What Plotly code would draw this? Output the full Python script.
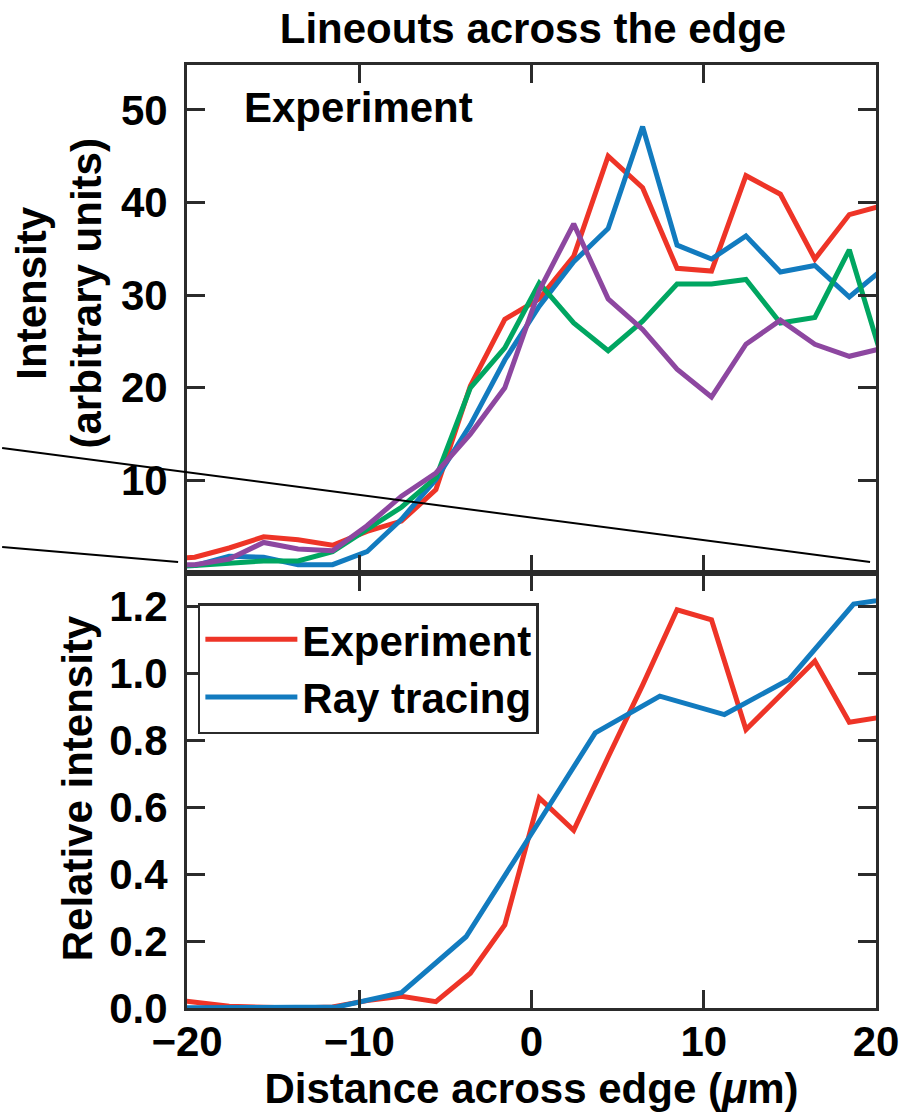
import plotly.graph_objects as go

# ---------------- data ----------------
x_top = [-21.55, -19.55, -17.55, -15.55, -13.55, -11.55, -9.55, -7.55, -5.55, -3.55, -1.55,
         0.45, 2.45, 4.45, 6.45, 8.45, 10.45, 12.45, 14.45, 16.45, 18.45, 20.45]
red_top = [1.5, 1.7, 2.7, 3.9, 3.6, 3.0, 4.5, 5.6, 9.0, 20.2, 27.4,
           29.6, 34.2, 45.0, 41.6, 32.9, 32.6, 42.9, 40.9, 33.9, 38.7, 39.7]
blue_top = [0.7, 0.8, 1.8, 1.7, 0.9, 0.9, 2.3, 5.8, 10.1, 16.0, 23.0,
            28.8, 33.6, 37.2, 48.2, 35.4, 33.9, 36.4, 32.5, 33.2, 29.8, 32.9]
green_top = [0.7, 0.8, 1.05, 1.3, 1.3, 2.3, 4.7, 7.1, 10.3, 20.0, 24.3,
             31.3, 27.0, 24.0, 27.2, 31.2, 31.2, 31.7, 27.0, 27.6, 34.9, 22.6]
purple_top = [0.8, 0.9, 1.5, 3.3, 2.6, 2.4, 5.1, 8.3, 10.8, 15.0, 20.0,
              30.5, 37.7, 29.6, 26.3, 22.0, 19.0, 24.7, 27.3, 24.7, 23.4, 24.3]

x_exp = x_top
rel_exp = [0.03, 0.018, 0.005, 0.002, 0.0, 0.003, 0.022, 0.035, 0.019, 0.104, 0.248,
           0.628, 0.531, 0.75, 0.965, 1.19, 1.16, 0.832, 0.935, 1.037, 0.854, 0.87]
x_ray = [-22.55, -18.8, -15.05, -11.3, -7.55, -3.8, -0.05, 3.7, 7.45, 11.2, 14.95, 18.7, 22.45]
rel_ray = [0.0, 0.0, 0.0, 0.003, 0.046, 0.213, 0.517, 0.822, 0.932, 0.877, 0.982, 1.207, 1.236]

x_ticks = [-20, -10, 0, 10, 20]
top_y_ticks = [10, 20, 30, 40, 50]
bot_y_ticks = [0.0, 0.2, 0.4, 0.6, 0.8, 1.0, 1.2]

RED = "#EE3427"
BLUE = "#127BBF"
GREEN = "#00A661"
PURPLE = "#8D47A0"
FRAME = "#2B2B2B"
FONT = "Liberation Sans"
FS = 42

# ---------------- layout geometry (pixels) ----------------
W, H = 911, 1117
L, R, T, B = 187, 27, 65, 109
PW, PH = W - L - R, H - T - B
split = (1008 - 573) / PH


def px(xp):
    return (xp - L) / PW


def py(yp):
    return (H - B - yp) / PH


fig = go.Figure()
lw = 5
for ys, c in [(red_top, RED), (blue_top, BLUE), (green_top, GREEN), (purple_top, PURPLE)]:
    fig.add_trace(go.Scatter(x=x_top, y=ys, mode="lines", line=dict(color=c, width=lw),
                             showlegend=False, xaxis="x2", yaxis="y2"))
fig.add_trace(go.Scatter(x=x_exp, y=rel_exp, mode="lines", name="Experiment",
                         line=dict(color=RED, width=lw), xaxis="x", yaxis="y"))
fig.add_trace(go.Scatter(x=x_ray, y=rel_ray, mode="lines", name="Ray tracing",
                         line=dict(color=BLUE, width=lw), xaxis="x", yaxis="y"))

axis_common = dict(showline=True, linecolor=FRAME, linewidth=3, mirror="ticks",
                   ticks="inside", ticklen=18, tickwidth=2.5, tickcolor=FRAME,
                   showgrid=False, zeroline=False,
                   tickfont=dict(family=FONT, size=FS, color="black", weight="bold"))

fig.update_layout(
    width=W, height=H,
    margin=dict(l=L, r=R, t=T, b=B),
    paper_bgcolor="white", plot_bgcolor="white",
    font=dict(family=FONT, size=FS, color="black", weight="bold"),
    title=dict(text="Lineouts across the edge", x=px(537), xanchor="center",
               xref="paper", y=1 - 28 / H, yref="container", yanchor="middle",
               font=dict(family=FONT, size=FS, color="black", weight="bold")),
    xaxis=dict(domain=[0, 1], range=[-20, 20], tickvals=x_ticks, anchor="y",
               ticklabelstandoff=-5,
               title=dict(text="Distance across edge (<i>μ</i>m)", standoff=10,
                          font=dict(family=FONT, size=FS, color="black", weight="bold")),
               **axis_common),
    yaxis=dict(domain=[0, split], range=[0, 1.3], tickvals=bot_y_ticks, tickformat=".1f",
               anchor="x", ticklabelstandoff=8, **axis_common),
    xaxis2=dict(domain=[0, 1], range=[-20, 20], tickvals=x_ticks, anchor="y2",
                showticklabels=False, matches="x", **axis_common),
    yaxis2=dict(domain=[split, 1], range=[0, (573.75 - 65) / 9.275], tickvals=top_y_ticks,
                anchor="x2", ticklabelstandoff=8, **axis_common),
    legend=dict(x=px(198), y=py(603), xanchor="left", yanchor="top",
                bgcolor="white", bordercolor=FRAME, borderwidth=2.5,
                itemwidth=92,
                font=dict(family=FONT, size=FS, color="black", weight="bold"),
                tracegroupgap=0),
    showlegend=True,
)

fig.add_annotation(text="Experiment", xref="paper", yref="paper", x=px(360), y=py(107),
                   xanchor="center", yanchor="middle", showarrow=False,
                   font=dict(family=FONT, size=FS, color="black", weight="bold"))
fig.add_annotation(text="Intensity<br>(arbitrary units)", xref="paper", yref="paper",
                   x=px(58), y=py(293), xanchor="center", yanchor="middle", textangle=-90,
                   showarrow=False,
                   font=dict(family=FONT, size=FS, color="black", weight="bold"))
fig.add_annotation(text="Relative intensity", xref="paper", yref="paper",
                   x=px(76), y=py(788), xanchor="center", yanchor="middle", textangle=-90,
                   showarrow=False,
                   font=dict(family=FONT, size=FS, color="black", weight="bold"))

# stray guide lines from the source figure
fig.add_shape(type="line", xref="paper", yref="paper", x0=px(0), y0=py(448), x1=px(878), y1=py(562),
              line=dict(color="black", width=2))
fig.add_shape(type="line", xref="paper", yref="paper", x0=px(0), y0=py(547), x1=px(178), y1=py(562),
              line=dict(color="black", width=2))

fig.write_html("out.html")
